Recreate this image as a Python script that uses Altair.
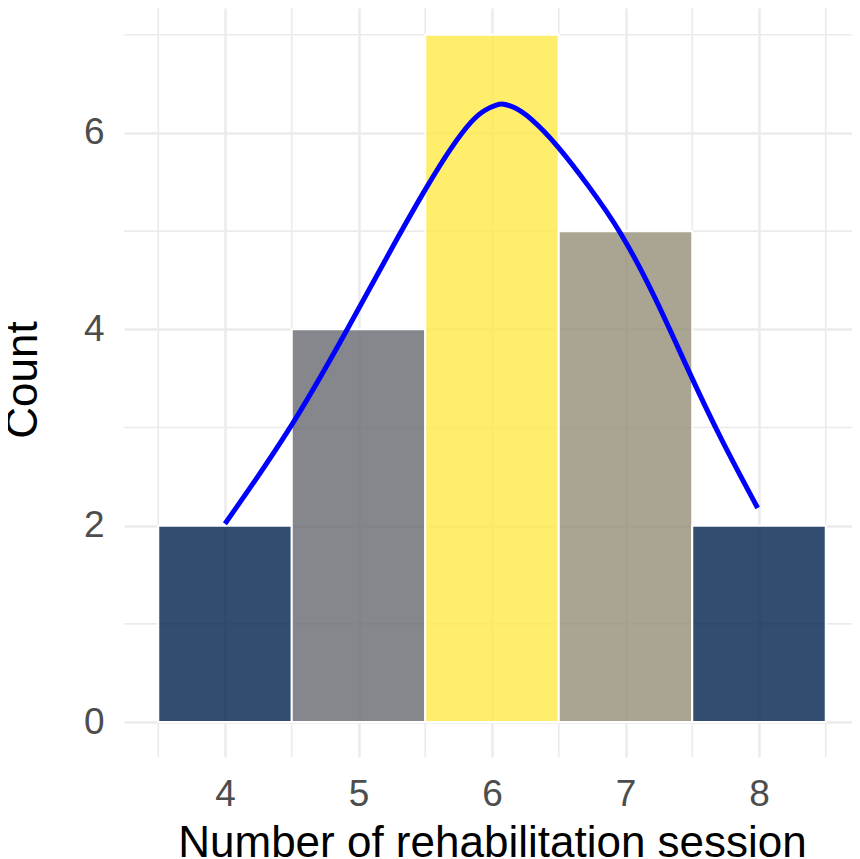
import altair as alt
import pandas as pd

# --- data ---
sessions = [4, 5, 6, 7, 8]
counts = [2, 4, 7, 5, 2]
bar_colors = ["#00204D", "#666970", "#FFEA46", "#958F78", "#00204D"]

curve_x = [4.00, 4.49, 4.91, 5.31, 5.51, 5.69, 5.86, 5.95, 6.04, 6.08,
           6.16, 6.28, 6.49, 6.73, 6.96, 7.21, 7.48, 7.71, 7.99]
curve_y = [2.02, 2.97, 3.98, 4.98, 5.45, 5.85, 6.15, 6.24, 6.29, 6.30,
           6.27, 6.17, 5.88, 5.45, 5.01, 4.37, 3.55, 2.89, 2.18]

x_major = [4, 5, 6, 7, 8]
x_minor = [3.5, 4.5, 5.5, 6.5, 7.5, 8.5]
y_major = [0, 2, 4, 6]
y_minor = [1, 3, 5, 7]

FONT = "Liberation Sans"
GRID = "#EBEBEB"

bars = pd.DataFrame({"session": sessions, "count": counts, "color": bar_colors})
bars["lo"] = bars["session"] - 0.5
bars["hi"] = bars["session"] + 0.5
curve = pd.DataFrame({"x": curve_x, "y": curve_y})

xscale = alt.Scale(domain=[3.2434, 8.6966], nice=False, zero=False)
yscale = alt.Scale(domain=[-0.3565, 7.273], nice=False, zero=False)

xaxis = alt.Axis(values=x_major, grid=True, gridColor=GRID, gridWidth=2.5,
                 domain=False, ticks=False, labelFontSize=37, labelColor="#4D4D4D",
                 labelFont=FONT, labelPadding=19, labelFlush=False,
                 title="Number of rehabilitation session", titleFont=FONT,
                 titleFontSize=44, titleFontWeight="normal", titleColor="black",
                 titleX=368, titleY=99, titleBaseline="alphabetic", titleAlign="center")
yaxis = alt.Axis(values=y_major, grid=True, gridColor=GRID, gridWidth=2.5,
                 domain=False, ticks=False, labelFontSize=37, labelColor="#4D4D4D",
                 labelFont=FONT, labelPadding=20, labelFlush=False,
                 title="Count", titleFont=FONT, titleFontSize=44,
                 titleFontWeight="normal", titleColor="black", titleAngle=270,
                 titleX=-88, titleY=371.5, titleBaseline="alphabetic", titleAlign="center")

minor_v = alt.Chart(pd.DataFrame({"x": x_minor})).mark_rule(
    color=GRID, strokeWidth=1.6).encode(x=alt.X("x:Q", scale=xscale, axis=xaxis))
minor_h = alt.Chart(pd.DataFrame({"y": y_minor})).mark_rule(
    color=GRID, strokeWidth=1.6).encode(y=alt.Y("y:Q", scale=yscale, axis=yaxis))

bar_layer = alt.Chart(bars).mark_bar(
    fillOpacity=0.8, stroke="white", strokeWidth=2).encode(
    x=alt.X("lo:Q", scale=xscale, axis=xaxis),
    x2="hi:Q",
    y=alt.Y("count:Q", scale=yscale, axis=yaxis),
    y2=alt.datum(0),
    fill=alt.Fill("color:N", scale=None),
)

line_layer = alt.Chart(curve).mark_line(
    color="#0000FF", strokeWidth=5, interpolate="basis").encode(
    x=alt.X("x:Q", scale=xscale, axis=xaxis),
    y=alt.Y("y:Q", scale=yscale, axis=yaxis),
)

chart = alt.layer(minor_v, minor_h, bar_layer, line_layer).properties(
    width=728, height=749,
    background="white",
    autosize=alt.AutoSizeParams(type="none"),
    padding={"left": 116, "top": 0, "right": 0, "bottom": 102},
).configure_view(strokeWidth=0, stroke="transparent")

chart.save("out.html", embed_options={"renderer": "svg", "actions": False})
